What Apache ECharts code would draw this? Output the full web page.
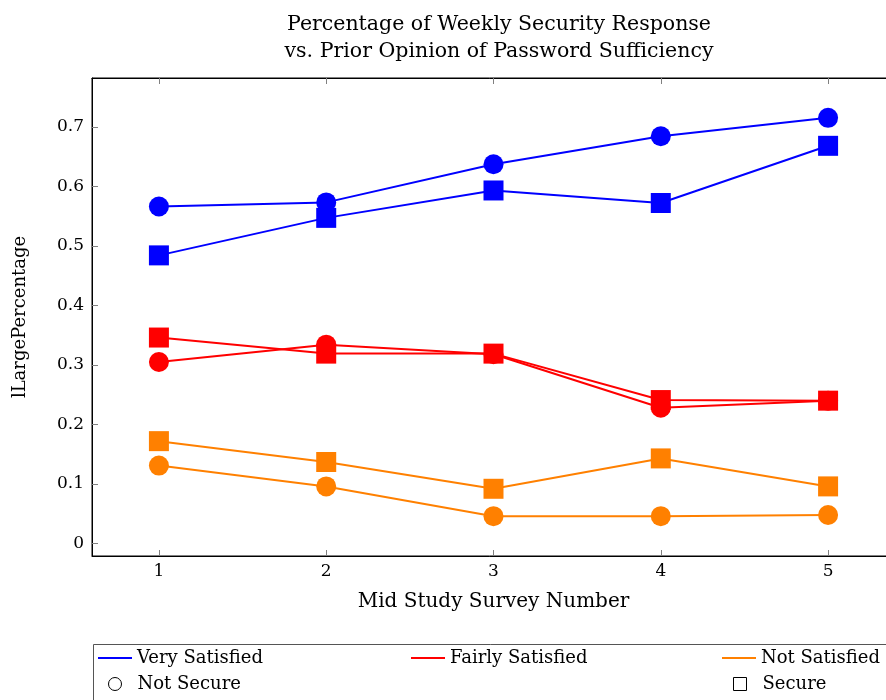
<!DOCTYPE html>
<html>
<head>
<meta charset="utf-8">
<script src="https://cdn.jsdelivr.net/npm/echarts@6/dist/echarts.min.js"></script>
<style>
  html, body { margin: 0; padding: 0; background: #ffffff; }
  #chart { width: 886px; height: 700px; }
</style>
</head>
<body>
<div id="chart"></div>
<script>
// Survey rounds and weekly security response shares per group
const surveys = [1, 2, 3, 4, 5];
const verySatisfiedNotSecure   = [0.566, 0.573, 0.637, 0.684, 0.715];
const verySatisfiedSecure      = [0.484, 0.547, 0.593, 0.572, 0.668];
const fairlySatisfiedNotSecure = [0.305, 0.334, 0.318, 0.228, 0.240];
const fairlySatisfiedSecure    = [0.346, 0.319, 0.319, 0.241, 0.240];
const notSatisfiedNotSecure    = [0.131, 0.096, 0.046, 0.046, 0.048];
const notSatisfiedSecure       = [0.172, 0.137, 0.092, 0.143, 0.096];

const yTicks = [0, 0.1, 0.2, 0.3, 0.4, 0.5, 0.6, 0.7];
const yTickLabels = ['0', '0.1', '0.2', '0.3', '0.4', '0.5', '0.6', '0.7'];
const xTicks = [1, 2, 3, 4, 5];

const FONT = 'DejaVu Serif';
const BLUE = '#0000ff', RED = '#ff0000', ORANGE = '#ff8000';

// axis limits padded by 10% of the data range on each side
const allY = [].concat(verySatisfiedNotSecure, verySatisfiedSecure, fairlySatisfiedNotSecure,
  fairlySatisfiedSecure, notSatisfiedNotSecure, notSatisfiedSecure);
const yLo = Math.min(...allY), yHi = Math.max(...allY);
const yPad = (yHi - yLo) * 0.1;
const xLo = Math.min(...surveys), xHi = Math.max(...surveys);
const xPad = (xHi - xLo) * 0.1;

function pairs(vals) { return surveys.map((s, i) => [s, vals[i]]); }

function lineSeries(name, vals, color, symbol) {
  return {
    name: name, type: 'line', data: pairs(vals),
    symbol: symbol, symbolSize: 20,
    lineStyle: { color: color, width: 2 },
    itemStyle: { color: color },
    emphasis: { disabled: true },
    z: 3
  };
}

// placeholder series that only feed the legend entries
function legendSeries(name, color) {
  return { name: name, type: 'line', data: [], itemStyle: { color: color }, lineStyle: { color: color } };
}

const chart = echarts.init(document.getElementById('chart'), null, { renderer: 'canvas' });

const tickStyle = { show: true, inside: true, length: 6, lineStyle: { color: '#808080', width: 1 } };

function lineLegend(name, left, top) {
  return {
    data: [name], left: left, top: top, padding: 0,
    icon: 'rect', itemWidth: 34, itemHeight: 2, itemGap: 0,
    textStyle: { fontFamily: FONT, fontSize: 18, color: '#000', padding: [0, 0, 0, 0] },
    selectedMode: false
  };
}
function markLegend(name, icon, left, top) {
  return {
    data: [name], left: left, top: top, padding: 0,
    icon: icon, itemWidth: 13, itemHeight: 13, itemGap: 0,
    itemStyle: { color: '#ffffff', borderColor: '#000', borderWidth: 1 },
    textStyle: { fontFamily: FONT, fontSize: 18, color: '#000', padding: [0, 0, 0, 11] },
    selectedMode: false
  };
}

chart.setOption({
  backgroundColor: '#ffffff',
  animation: false,
  title: {
    text: 'Percentage of Weekly Security Response\nvs. Prior Opinion of Password Sufficiency',
    left: 494, top: 6, textAlign: 'center',
    textStyle: { fontFamily: FONT, fontSize: 20.5, fontWeight: 'normal', color: '#000', lineHeight: 27 }
  },
  // the frame runs a little past the right edge of the canvas
  grid: {
    left: 92, top: 78, width: 803, bottom: 144,
    outerBoundsMode: 'none', containLabel: false,
    show: true, borderColor: '#000', borderWidth: 1
  },
  xAxis: [{
    type: 'value', min: xLo - xPad, max: xHi + xPad,
    name: 'Mid Study Survey Number', nameLocation: 'middle', nameGap: 36,
    nameTextStyle: { fontFamily: FONT, fontSize: 20, color: '#000' },
    axisLine: { show: true, onZero: false, lineStyle: { color: '#000', width: 1 } },
    axisTick: Object.assign({ customValues: xTicks }, tickStyle),
    axisLabel: { customValues: xTicks, fontFamily: FONT, fontSize: 17, color: '#000', margin: 7 },
    splitLine: { show: false }
  }, {
    type: 'value', position: 'top', min: xLo - xPad, max: xHi + xPad,
    axisLine: { show: true, onZero: false, lineStyle: { color: '#000', width: 1 } },
    axisTick: Object.assign({ customValues: xTicks }, tickStyle),
    axisLabel: { show: false },
    splitLine: { show: false }
  }],
  yAxis: [{
    type: 'value', min: yLo - yPad, max: yHi + yPad,
    name: 'lLargePercentage', nameLocation: 'middle', nameGap: 63, nameRotate: 90,
    nameTextStyle: { fontFamily: FONT, fontSize: 18, color: '#000' },
    axisLine: { show: true, onZero: false, lineStyle: { color: '#000', width: 1 } },
    axisTick: Object.assign({ customValues: yTicks }, tickStyle),
    axisLabel: {
      customValues: yTicks, fontFamily: FONT, fontSize: 17, color: '#000', margin: 8,
      formatter: v => yTickLabels[yTicks.findIndex(t => Math.abs(t - v) < 1e-9)] ?? ''
    },
    splitLine: { show: false }
  }],
  legend: [
    lineLegend('Very Satisfied', 98, 649),
    lineLegend('Fairly Satisfied', 411, 649),
    lineLegend('Not Satisfied', 722, 649),
    markLegend('Not Secure', 'circle', 108, 675),
    markLegend('Secure', 'rect', 733, 675)
  ],
  graphic: [{
    type: 'rect', left: 91, top: 642, silent: true,
    shape: { width: 900, height: 120 },
    style: { fill: 'none', stroke: '#555', lineWidth: 1 }
  }],
  series: [
    lineSeries('Very Satisfied · Not Secure', verySatisfiedNotSecure, BLUE, 'circle'),
    lineSeries('Very Satisfied · Secure', verySatisfiedSecure, BLUE, 'rect'),
    lineSeries('Fairly Satisfied · Not Secure', fairlySatisfiedNotSecure, RED, 'circle'),
    lineSeries('Fairly Satisfied · Secure', fairlySatisfiedSecure, RED, 'rect'),
    lineSeries('Not Satisfied · Not Secure', notSatisfiedNotSecure, ORANGE, 'circle'),
    lineSeries('Not Satisfied · Secure', notSatisfiedSecure, ORANGE, 'rect'),
    legendSeries('Very Satisfied', BLUE),
    legendSeries('Fairly Satisfied', RED),
    legendSeries('Not Satisfied', ORANGE),
    legendSeries('Not Secure', '#000'),
    legendSeries('Secure', '#000')
  ]
});
</script>
</body>
</html>
